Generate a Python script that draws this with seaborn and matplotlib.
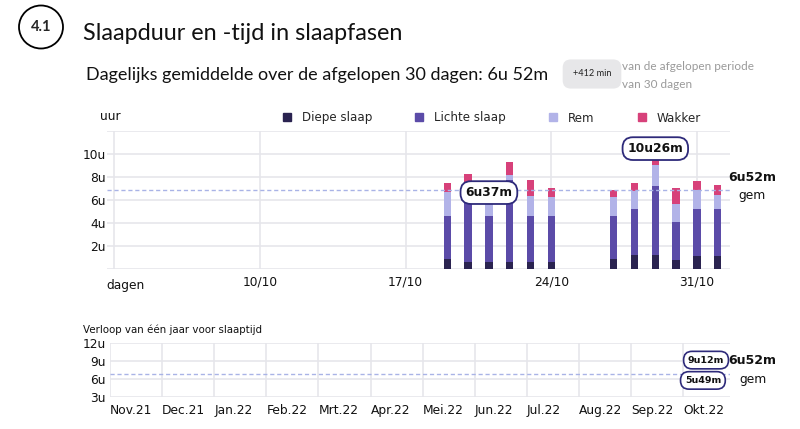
import matplotlib
matplotlib.use("Agg")
import matplotlib.pyplot as plt
import numpy as np
import pandas as pd
import seaborn as sns
from matplotlib.patches import Ellipse
from matplotlib.lines import Line2D

# ---- data (hours per sleep phase, per night) ----
dates = ["2022-10-19", "2022-10-20", "2022-10-21", "2022-10-22", "2022-10-23", "2022-10-24",
         "2022-10-27", "2022-10-28", "2022-10-29", "2022-10-30", "2022-10-31", "2022-11-01"]
diepe = [0.84, 0.63, 0.63, 0.58, 0.58, 0.58, 0.84, 1.22, 1.22, 0.78, 1.16, 1.16]
lichte = [3.79, 5.37, 4.00, 7.16, 4.03, 4.03, 3.77, 4.00, 6.00, 3.25, 4.06, 4.06]
rem = [2.04, 1.54, 1.27, 0.37, 1.68, 1.62, 1.62, 1.50, 1.82, 1.60, 1.65, 1.21]
wakker = [0.78, 0.69, 0.72, 1.17, 1.39, 0.79, 0.58, 0.73, 1.39, 1.39, 0.78, 0.81]

start = "2022-10-03"
tick_days = [0, 7, 14, 21, 28]
tick_labels = ["dagen", "10/10", "17/10", "24/10", "31/10"]
gemiddelde = 6 + 52 / 60      # 6u52m

maanden = ["Nov.21", "Dec.21", "Jan.22", "Feb.22", "Mrt.22", "Apr.22",
           "Mei.22", "Jun.22", "Jul.22", "Aug.22", "Sep.22", "Okt.22"]
jaar_max = 9 + 12 / 60        # 9u12m
jaar_min = 5 + 49 / 60        # 5u49m

C_DIEP = "#2a2350"
C_LICHT = "#5b4ba8"
C_REM = "#b2b3e8"
C_WAK = "#d7417a"
GRID = "#e6e6eb"
GEM = "#a9b3e6"
PILL = "#2e2a7a"

sns.set_theme(style="white")
plt.rcParams["font.family"] = ["DejaVu Sans"]

df = pd.DataFrame({"datum": pd.to_datetime(dates), "diepe": diepe, "lichte": lichte,
                   "rem": rem, "wakker": wakker})
df["dag"] = (df["datum"] - pd.Timestamp(start)).dt.days
df["t_diep"] = df["diepe"]
df["t_licht"] = df["t_diep"] + df["lichte"]
df["t_rem"] = df["t_licht"] + df["rem"]
df["t_wak"] = df["t_rem"] + df["wakker"]

W, H = 800, 429
fig = plt.figure(figsize=(W / 100, H / 100), dpi=100)


def fx(x):
    return x / W


def fy(y):
    return 1 - y / H


# ---- header ----
fig.add_artist(Ellipse((fx(41), fy(27)), 44 / W, 43 / H, transform=fig.transFigure,
                       fill=False, ec="black", lw=1.3))
fig.text(fx(41), fy(27), "4.1", ha="center", va="center", fontsize=10.5,
         family="Lato", weight="bold")
fig.text(fx(83), fy(33), "Slaapduur en -tijd in slaapfasen", ha="left", va="center",
         fontsize=16.8, family="Lato", color="#111111")
fig.text(fx(86), fy(75), "Dagelijks gemiddelde over de afgelopen 30 dagen: 6u 52m",
         ha="left", va="center", fontsize=13.0, family="Lato", color="#111111")
fig.text(fx(592), fy(74), "+412 min", ha="center", va="center", fontsize=6.6,
         family="Lato", color="#222222",
         bbox=dict(boxstyle="round,pad=1.1,rounding_size=0.9", fc="#e7e7e9", ec="none"))
fig.text(fx(622), fy(66), "van de afgelopen periode", ha="left", va="center",
         fontsize=8.5, family="Lato", color="#9a9a9a")
fig.text(fx(622), fy(84), "van 30 dagen", ha="left", va="center",
         fontsize=8.5, family="Lato", color="#9a9a9a")

# ---- top chart: stacked bars ----
L1, R1, T1, B1 = 107, 730, 130.5, 269
ax = fig.add_axes([fx(L1), fy(B1), (R1 - L1) / W, (B1 - T1) / H])
for col, c in [("t_wak", C_WAK), ("t_rem", C_REM), ("t_licht", C_LICHT), ("t_diep", C_DIEP)]:
    sns.barplot(data=df, x="dag", y=col, native_scale=True, width=0.36, color=c,
                saturation=1, errorbar=None, linewidth=0, ax=ax, zorder=3)

ax.axhline(gemiddelde, color=GEM, lw=1, ls=(0, (3, 2)), zorder=4)
ax.set_xlim(-0.36, 29.59)
ax.set_ylim(0, 12)
ax.set_yticks(range(0, 13, 2))
ax.set_yticklabels(["", "2u", "4u", "6u", "8u", "10u", ""])
ax.set_xticks(tick_days)
ax.set_xticklabels([""] + tick_labels[1:])
ax.text(-0.4, -0.07, tick_labels[0], transform=ax.get_xaxis_transform(), ha="left",
        va="top", fontsize=8.8, color="#111111")
ax.grid(True, color=GRID, lw=1.2, zorder=0)
ax.set_axisbelow(True)
for s in ax.spines.values():
    s.set_visible(False)
ax.tick_params(axis="both", length=0, labelsize=8.8, colors="#111111")
ax.tick_params(axis="y", pad=1)
ax.tick_params(axis="x", pad=5)
ax.set_xlabel("")
ax.set_ylabel("")

for i in [2, 8]:
    tot = df["t_wak"].iloc[i]
    uur = int(tot)
    mins = int(round((tot - uur) * 60))
    ax.text(df["dag"].iloc[i], tot, f"{uur}u{mins:02d}m", ha="center", va="center",
            fontsize=8.8, weight="bold", color="#111111", zorder=6,
            bbox=dict(boxstyle="round,pad=0.4,rounding_size=0.85", fc="white",
                      ec=PILL, lw=1.3))

fig.text(fx(752), fy(178), "6u52m", ha="center", va="center", fontsize=9,
         weight="bold", color="#111111")
fig.text(fx(752), fy(195.5), "gem", ha="center", va="center", fontsize=8.8,
         color="#111111")
fig.text(fx(100), fy(117), "uur", ha="left", va="center", fontsize=8.8, color="#111111")

handles = [Line2D([], [], ls="none", marker="s", ms=5.2, color=c)
           for c in [C_DIEP, C_LICHT, C_REM, C_WAK]]
fig.legend(handles, ["Diepe slaap", "Lichte slaap", "Rem", "Wakker"], ncol=4,
           loc="center left", bbox_to_anchor=(fx(282), fy(118)), frameon=False,
           fontsize=8.6, handlelength=0.8, handletextpad=0.85, columnspacing=3.55,
           borderpad=0, borderaxespad=0)

# ---- bottom chart: one year ----
L2, R2, T2, B2 = 110, 730, 343.3, 397.3
ax2 = fig.add_axes([fx(L2), fy(B2), (R2 - L2) / W, (B2 - T2) / H])
maand_pos = np.arange(len(maanden))
sns.lineplot(x=[0, 11.9], y=[gemiddelde, gemiddelde], ax=ax2, color=GEM, lw=1,
             dashes=(3, 2), zorder=4)
ax2.set_xlim(0, 11.9)
ax2.set_ylim(3, 12)
ax2.set_yticks([3, 6, 9, 12])
ax2.set_yticklabels(["3u", "6u", "9u", "12u"])
ax2.set_xticks(maand_pos)
ax2.set_xticklabels(maanden, ha="left")
ax2.grid(True, color=GRID, lw=1.2, zorder=0)
for s in ax2.spines.values():
    s.set_visible(False)
ax2.tick_params(axis="both", length=0, labelsize=8.8, colors="#111111")
ax2.tick_params(axis="y", pad=3)
ax2.tick_params(axis="x", pad=5)

for val, xpos in [(jaar_max, 11.44), (jaar_min, 11.38)]:
    uur = int(val)
    mins = int(round((val - uur) * 60))
    ax2.text(xpos, val, f"{uur}u{mins:02d}m", ha="center", va="center", fontsize=6.8,
             weight="bold", color="#111111", zorder=6,
             bbox=dict(boxstyle="round,pad=0.45,rounding_size=0.9", fc="white",
                       ec=PILL, lw=1.2))

fig.text(fx(752), fy(360), "6u52m", ha="center", va="center", fontsize=9,
         weight="bold", color="#111111")
fig.text(fx(753), fy(379.5), "gem", ha="center", va="center", fontsize=8.8,
         color="#111111")
fig.text(fx(83), fy(330), "Verloop van één jaar voor slaaptijd", ha="left", va="center",
         fontsize=7.4, color="#111111")

fig.savefig("out.png", dpi=100)
